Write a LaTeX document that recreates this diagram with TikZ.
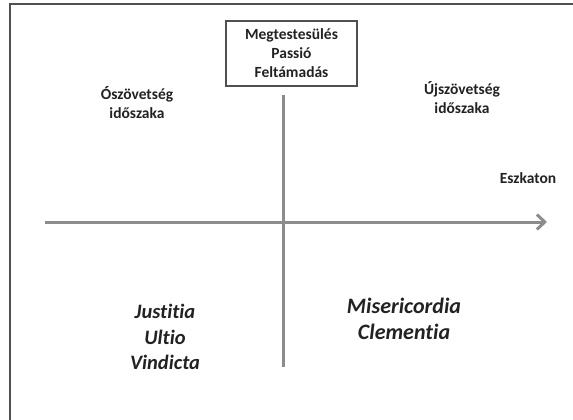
\documentclass[tikz,border=0pt]{standalone}
\usepackage{fontspec}
\setmainfont{Carlito}[Ligatures=NoCommon]
\usetikzlibrary{arrows.meta}
\definecolor{axisgray}{HTML}{8C8C8C}
\definecolor{framegray}{HTML}{505050}
\definecolor{txt}{HTML}{222222}
\tikzset{
  lbl/.style={align=center, text=txt, font=\fontsize{15.5}{19}\selectfont\bfseries, inner sep=0pt},
  biglbl/.style={align=center, text=txt, font=\fontsize{20.5}{25.5}\selectfont\bfseries\itshape, inner sep=0pt},
  bigrlbl/.style={align=center, text=txt, font=\fontsize{22}{25.5}\selectfont\bfseries\itshape, inner sep=0pt},
  axis/.style={draw=axisgray, line width=3pt},
  eventbox/.style={draw=framegray, line width=1.3pt, minimum width=131pt, minimum height=65pt, align=center, text=txt, font=\fontsize{15.5}{19}\selectfont\bfseries, inner sep=0pt}
}
\begin{document}
\begin{tikzpicture}[x=1pt,y=-1pt]
\useasboundingbox (0,0) rectangle (573,420);
\begin{scope}
\clip (0,0) rectangle (573,420);
\draw[framegray, line width=1.5pt] (10,440) -- (10,4) -- (590,4);
\end{scope}
\node[eventbox] (box) at (291.5,53.5) {Megtestesülés\\Passió\\Feltámadás};
\coordinate (vtop) at (283,95);
\coordinate (vbot) at (283,367);
\coordinate (hstart) at (45,222);
\coordinate (hend) at (547,222);
\draw[axis] (vtop) -- (vbot);
\draw[axis, -{Straight Barb[length=8pt, width=15pt, line width=3pt]}] (hstart) -- (hend);
\node[lbl] (old) at (137,103) {Ószövetség\\időszaka};
\node[lbl] (new) at (462,98) {Újszövetség\\időszaka};
\node[lbl] (esk) at (528,178) {Eszkaton};
\node[biglbl] (just) at (165,337) {Justitia\\Ultio\\Vindicta};
\node[bigrlbl] (mis) at (404,319) {Misericordia\\Clementia};
\end{tikzpicture}
\end{document}
